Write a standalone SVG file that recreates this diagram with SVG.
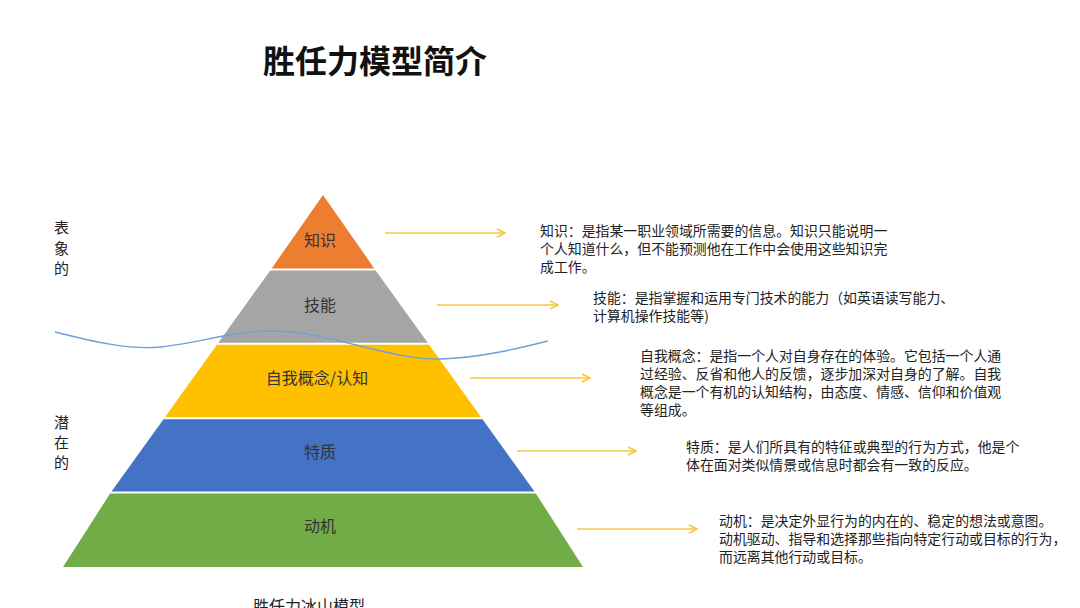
<svg xmlns="http://www.w3.org/2000/svg" width="1080" height="608" viewBox="0 0 1080 608">
<style>
text{font-family:"Noto Sans CJK SC","Microsoft YaHei",sans-serif;fill:#222}
.lbl{font-size:16px;text-anchor:middle;fill:#333}
.desc{font-size:13.9px}
.side{font-size:15px}
.arr{stroke:#F8C63F;stroke-width:1.6;fill:none;marker-end:url(#ah)}
</style>
<defs>
<marker id="ah" viewBox="0 0 10 10" refX="9" refY="5" markerWidth="10" markerHeight="10" markerUnits="userSpaceOnUse" orient="auto">
<polyline points="1,1 9,5 1,9" fill="none" stroke="#F8C63F" stroke-width="1.6"/>
</marker>
</defs>
<rect width="1080" height="608" fill="#fff"/>
<text x="263" y="73" style="font-size:32px;font-weight:bold;fill:#111">胜任力模型简介</text>

<g id="layer-knowledge">
<polygon points="323,195 374.3,268.4 271.7,268.4" fill="#ED7D31"/>
<text class="lbl" x="320" y="246">知识</text>
</g>
<g id="layer-skill">
<polygon points="270.3,270.4 375.7,270.4 427.7,342.8 218.3,342.8" fill="#A5A5A5"/>
<text class="lbl" x="320" y="311">技能</text>
</g>
<g id="layer-self">
<polygon points="216.9,344.8 429.1,344.8 481.1,417.2 164.9,417.2" fill="#FFC000"/>
<text class="lbl" x="317" y="384">自我概念/认知</text>
</g>
<g id="layer-trait">
<polygon points="163.5,419.2 482.5,419.2 534.5,491.6 111.5,491.6" fill="#4472C4"/>
<text class="lbl" x="320" y="458">特质</text>
</g>
<g id="layer-motive">
<polygon points="110.1,493.6 535.9,493.6 583,567 63,567" fill="#70AD47"/>
<text class="lbl" x="320" y="532">动机</text>
</g>

<g id="waterline">
<path d="M55,332 C95,342 130,350 160,347 C200,343 235,330 275,331 C330,332 390,360 440,359 C480,358 520,348 548,341" fill="none" stroke="#6FA0D8" stroke-width="1.4"/>
</g>

<g id="connectors">
<line class="arr" x1="385" y1="233" x2="505" y2="233"/>
<line class="arr" x1="437" y1="305" x2="558" y2="305"/>
<line class="arr" x1="470" y1="378" x2="590" y2="378"/>
<line class="arr" x1="517" y1="451" x2="636" y2="451"/>
<line class="arr" x1="577" y1="529" x2="697" y2="529"/>
</g>

<g id="desc-knowledge">
<text class="desc" x="540" y="236">知识：是指某一职业领域所需要的信息。知识只能说明一</text>
<text class="desc" x="540" y="254">个人知道什么，但不能预测他在工作中会使用这些知识完</text>
<text class="desc" x="540" y="272">成工作。</text>
</g>
<g id="desc-skill">
<text class="desc" x="593" y="303">技能：是指掌握和运用专门技术的能力（如英语读写能力、</text>
<text class="desc" x="593" y="321">计算机操作技能等)</text>
</g>
<g id="desc-self">
<text class="desc" x="640" y="361">自我概念：是指一个人对自身存在的体验。它包括一个人通</text>
<text class="desc" x="640" y="379">过经验、反省和他人的反馈，逐步加深对自身的了解。自我</text>
<text class="desc" x="640" y="397">概念是一个有机的认知结构，由态度、情感、信仰和价值观</text>
<text class="desc" x="640" y="415">等组成。</text>
</g>
<g id="desc-trait">
<text class="desc" x="686" y="452">特质：是人们所具有的特征或典型的行为方式，他是个</text>
<text class="desc" x="686" y="470">体在面对类似情景或信息时都会有一致的反应。</text>
</g>
<g id="desc-motive">
<text class="desc" x="719" y="526">动机：是决定外显行为的内在的、稳定的想法或意图。</text>
<text class="desc" x="719" y="544">动机驱动、指导和选择那些指向特定行动或目标的行为，</text>
<text class="desc" x="719" y="562">而远离其他行动或目标。</text>
</g>

<g id="side-surface">
<text class="side" x="54" y="233">表</text>
<text class="side" x="54" y="254">象</text>
<text class="side" x="54" y="274">的</text>
</g>
<g id="side-latent">
<text class="side" x="54" y="428">潜</text>
<text class="side" x="54" y="448">在</text>
<text class="side" x="54" y="468">的</text>
</g>
<text x="253" y="612" style="font-size:16px">胜任力冰山模型</text>
</svg>
